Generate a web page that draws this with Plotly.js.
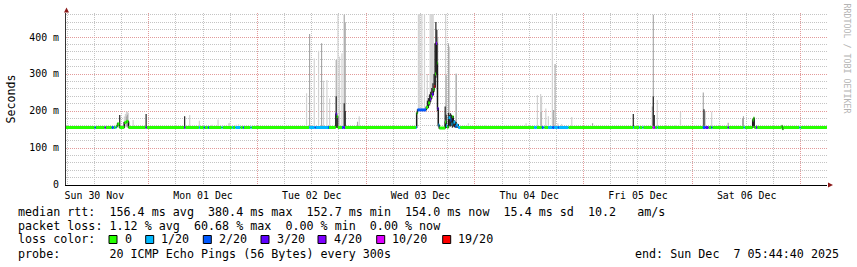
<!DOCTYPE html>
<html><head><meta charset="utf-8">
<script src="https://cdn.plot.ly/plotly-3.0.1.min.js"></script>
<style>html,body{margin:0;padding:0;background:#fff}#chart{width:857px;height:267px}</style>
</head><body><div id="chart"></div>
<script>
// ---------- data ----------
const lossLabels = ['0','1/20','2/20','3/20','4/20','10/20','19/20'];
const lossColors = ['#26ff00','#00b8ff','#0059ff','#5e00ff','#7e00ff','#dd00ff','#ff0000'];
const yTickVals = [0, 0.1, 0.2, 0.3, 0.4];
const yTickText = ['0', '100 m', '200 m', '300 m', '400 m'];
const rangeStart = '2025-11-30 05:44:40';
const rangeEnd = '2025-12-07 05:44:40';

// median rtt (ms) with loss index per 5-min step
const medT = ['2025-11-30 05:44','2025-11-30 12:05','2025-11-30 12:18','2025-11-30 14:18','2025-11-30 14:31','2025-11-30 15:50','2025-11-30 16:17','2025-11-30 16:39','2025-11-30 16:53','2025-11-30 17:06','2025-11-30 17:32','2025-11-30 18:38','2025-11-30 19:05','2025-11-30 19:31','2025-11-30 23:20','2025-11-30 23:33','2025-12-01 07:50','2025-12-01 08:03','2025-12-01 11:05','2025-12-01 11:18','2025-12-01 12:10','2025-12-01 12:23','2025-12-01 13:04','2025-12-01 13:17','2025-12-01 16:05','2025-12-01 16:18','2025-12-01 18:22','2025-12-01 18:35','2025-12-01 19:08','2025-12-01 20:14','2025-12-01 20:47','2025-12-01 21:00','2025-12-01 22:29','2025-12-01 22:42','2025-12-02 11:25','2025-12-02 12:40','2025-12-02 12:53','2025-12-02 15:35','2025-12-02 15:48','2025-12-02 17:18','2025-12-02 17:31','2025-12-02 17:44','2025-12-02 18:40','2025-12-02 19:00','2025-12-02 19:20','2025-12-03 11:00','2025-12-03 11:10','2025-12-03 11:20','2025-12-03 13:15','2025-12-03 13:42','2025-12-03 14:05','2025-12-03 14:20','2025-12-03 14:31','2025-12-03 14:52','2025-12-03 15:05','2025-12-03 15:15','2025-12-03 15:25','2025-12-03 15:38','2025-12-03 15:45','2025-12-03 15:58','2025-12-03 16:10','2025-12-03 17:27','2025-12-03 17:40','2025-12-03 17:53','2025-12-03 18:11','2025-12-03 18:37','2025-12-03 18:50','2025-12-03 19:03','2025-12-03 19:16','2025-12-03 19:40','2025-12-03 19:53','2025-12-03 20:19','2025-12-03 20:45','2025-12-04 13:05','2025-12-04 13:41','2025-12-04 14:47','2025-12-04 15:08','2025-12-04 15:20','2025-12-04 16:10','2025-12-04 17:05','2025-12-04 17:30','2025-12-04 18:20','2025-12-04 18:33','2025-12-04 20:40','2025-12-05 10:55','2025-12-05 11:05','2025-12-05 12:15','2025-12-05 12:25','2025-12-05 13:00','2025-12-05 13:10','2025-12-05 15:15','2025-12-05 15:35','2025-12-05 15:48','2025-12-05 16:15','2025-12-05 16:25','2025-12-06 02:20','2025-12-06 02:55','2025-12-06 03:35','2025-12-06 04:12','2025-12-06 04:25','2025-12-06 07:50','2025-12-06 08:03','2025-12-06 11:22','2025-12-06 11:35','2025-12-06 13:20','2025-12-06 13:32','2025-12-06 13:42','2025-12-06 14:06','2025-12-06 14:19','2025-12-06 19:45','2025-12-06 19:55','2025-12-06 20:05','2025-12-06 23:40','2025-12-06 23:53','2025-12-07 05:44'];
const medV = [155.5,155.5,155.5,155.5,155.5,155.5,155.5,155.5,159,165,155.5,169,172,155.5,155.5,155.5,155.5,155.5,155.5,155.5,155.5,155.5,155.5,155.5,155.5,155.5,155.5,155.5,155.5,155.5,155.5,155.5,155.5,155.5,155.5,155.5,155.5,155.5,155.5,192,185,155.5,155.5,155.5,155.5,155.5,194,203,210,222,232,240,245,258,266,300,383,330,207,162,154,170,160,156,182,176,165,185,170,158,162,155.5,155.5,155.5,155.5,155.5,155.5,155.5,155.5,155.5,155.5,155.5,155.5,155.5,155.5,155.5,155.5,155.5,155.5,155.5,155.5,155.5,155.5,155.5,155.5,155.5,155.5,155.5,155.5,155.5,155.5,155.5,155.5,155.5,176,181,155.5,155.5,155.5,159,152,155.5,155.5,155.5,155.5];
const medL = [0,2,0,3,0,2,0,1,0,0,0,0,0,0,3,0,3,0,1,0,2,0,2,0,1,0,1,0,1,0,2,0,1,0,1,2,1,2,0,3,0,0,2,3,0,1,0,2,0,0,3,0,3,0,6,0,4,0,3,1,0,0,1,0,1,2,1,0,1,2,1,1,0,1,0,2,1,0,1,2,1,2,1,0,1,0,1,0,1,0,5,4,0,1,0,2,3,0,2,0,3,0,1,0,0,0,0,3,0,0,0,0,1,0,0];

// smoke (ping spread), ms
const lightT = ['2025-11-30 18:38','2025-11-30 18:52','2025-11-30 19:05','2025-11-30 19:18','2025-11-30 19:31','2025-11-30 20:34','2025-12-01 05:53','2025-12-01 09:03','2025-12-01 11:11','2025-12-01 13:45','2025-12-01 14:00','2025-12-01 15:19','2025-12-01 17:40','2025-12-01 17:55','2025-12-01 19:20','2025-12-01 19:50','2025-12-02 10:51','2025-12-02 12:33','2025-12-02 13:30','2025-12-02 14:36','2025-12-02 15:21','2025-12-02 15:56','2025-12-02 17:47','2025-12-02 18:08','2025-12-02 18:40','2025-12-02 22:29','2025-12-03 11:33','2025-12-03 11:50','2025-12-03 12:18','2025-12-03 12:53','2025-12-03 13:30','2025-12-03 14:08','2025-12-03 14:22','2025-12-03 14:35','2025-12-03 14:48','2025-12-03 15:50','2025-12-03 17:33','2025-12-03 18:24','2025-12-03 19:53','2025-12-03 22:35','2025-12-04 02:30','2025-12-04 11:19','2025-12-04 13:49','2025-12-04 14:31','2025-12-04 14:44','2025-12-04 15:40','2025-12-04 16:14','2025-12-04 17:07','2025-12-04 18:20','2025-12-04 19:10','2025-12-04 21:24','2025-12-05 13:12','2025-12-05 16:17','2025-12-05 20:24','2025-12-05 21:24','2025-12-06 04:17','2025-12-06 23:02'];
const lightLo = [156,156,156,156,156,156,156,156,156,156,156,156,156,156,156,156,156,156,156,156,156,156,156,156,156,156,196,200,203,205,208,225,235,240,250,160,156,156,156,156,156,156,156,156,156,156,156,156,156,156,156,156,156,156,156,156,156];
const lightHi = [185,192,198,198,195,176,162,189,174,162,163,177,167,168,163,164,248,342,363,282,284,234,462,347,356,186,462,462,462,462,300,462,462,462,462,400,462,374,302,167,162,167,243,246,240,207,186,462,167,165,184,160,230,162,198,198,158];

const midT = ['2025-11-30 19:05','2025-11-30 19:18','2025-12-02 11:31','2025-12-02 14:10','2025-12-02 17:24','2025-12-02 19:10','2025-12-02 19:23','2025-12-02 22:06','2025-12-03 17:40','2025-12-03 18:11','2025-12-03 19:53','2025-12-04 14:38','2025-12-04 17:20','2025-12-04 17:43','2025-12-05 01:59','2025-12-05 15:11','2025-12-05 15:24','2025-12-06 02:26','2025-12-06 02:48','2025-12-06 07:56','2025-12-06 11:07','2025-12-06 11:18','2025-12-06 14:12'];
const midLo = [158,158,156,156,156,156,156,156,154,155,155,156,156,156,156,156,156,156,156,156,156,156,156];
const midHi = [185,190,408,383,338,460,440,171,297,383,300,198,203,327,167,212,460,250,200,168,181,186,162];

const darkT = ['2025-11-30 17:10','2025-11-30 17:36','2025-11-30 18:35','2025-11-30 19:35','2025-11-30 23:26','2025-12-01 07:56','2025-12-02 17:24','2025-12-02 19:10','2025-12-02 19:23','2025-12-03 11:08','2025-12-03 13:20','2025-12-03 13:32','2025-12-03 13:45','2025-12-03 14:00','2025-12-03 14:15','2025-12-03 14:30','2025-12-03 14:45','2025-12-03 15:00','2025-12-03 15:12','2025-12-03 15:24','2025-12-03 15:36','2025-12-03 15:45','2025-12-03 15:56','2025-12-03 16:08','2025-12-03 17:27','2025-12-03 17:40','2025-12-03 18:11','2025-12-03 18:24','2025-12-03 18:37','2025-12-03 18:50','2025-12-03 19:03','2025-12-03 19:16','2025-12-03 19:30','2025-12-03 19:53','2025-12-03 20:19','2025-12-05 10:59','2025-12-05 15:24','2025-12-05 15:37','2025-12-06 02:35','2025-12-06 13:19','2025-12-06 13:32','2025-12-06 19:58'];
const darkLo = [158,155,156,156,155,155,155,157,157,155,203,206,208,215,225,233,242,252,262,290,300,200,158,153,154,154,158,160,158,160,155,158,156,155,154,155,160,155,160,155,160,150];
const darkHi = [168,189,170,172,192,186,240,221,200,196,214,228,235,245,252,262,275,300,383,441,420,330,207,162,212,190,195,189,194,190,185,180,175,170,165,192,239,189,205,176,181,158];

const statLines = [
  'median rtt:  156.4 ms avg  380.4 ms max  152.7 ms min  154.0 ms now  15.4 ms sd  10.2   am/s',
  'packet loss: 1.12 % avg  60.68 % max  0.00 % min  0.00 % now',
  'loss color:',
  'probe:       20 ICMP Echo Pings (56 Bytes) every 300s'
];
const endText = 'end: Sun Dec  7 05:44:40 2025';
const yTitle = 'Seconds';
const watermark = 'RRDTOOL / TOBI OETIKER';

// ---------- drawing ----------
const W = 857, H = 267, ML = 66, MR = 30, MT = 13, MB = 82;
const PW = W - ML - MR, PH = H - MT - MB;
const px = x => (x - ML) / PW;
const py = y => (H - MB - y) / PH;
const nb = s => s.replace(/ /g, '\u00a0');
const mono = 'DejaVu Sans Mono, monospace';

function smoke(T, Lo, Hi, color, w) {
  return { type: 'bar', x: T, base: Lo.map(v => v / 1000), y: Hi.map((h, i) => (h - Lo[i]) / 1000),
    width: w, marker: { color: color, line: { width: 0 } }, hoverinfo: 'skip', showlegend: false };
}
function lossSegments(k) {
  const xs = [], ys = [];
  for (let i = 0; i < medT.length - 1; i++) {
    if (medL[i] === k) { xs.push(medT[i], medT[i + 1], null); ys.push(medV[i] / 1000, medV[i] / 1000, null); }
  }
  return { type: 'scatter', mode: 'lines', x: xs, y: ys, connectgaps: false,
    line: { color: lossColors[k], width: 3 }, hoverinfo: 'skip', showlegend: false };
}
const traces = [];
traces.push(smoke(lightT, lightLo, lightHi, '#d2d2d2', 950000));
traces.push(smoke(midT, midLo, midHi, '#a6a6a6', 900000));
// thin connector of the median steps
traces.push({ type: 'scatter', mode: 'lines', x: medT, y: medV.map(v => v / 1000),
  line: { shape: 'hv', color: '#1a1a1a', width: 1.2 }, hoverinfo: 'skip', showlegend: false });
traces.push(lossSegments(0));
traces.push(smoke(darkT, darkLo, darkHi, '#2e2e2e', 1000000));
for (let k = 1; k < lossColors.length; k++) traces.push(lossSegments(k));

const ann = [];
const rows = [211.5, 225.5, 239.5, 253.5];
statLines.forEach((s, i) => ann.push({ xref: 'paper', yref: 'paper', x: px(15.5), y: py(rows[i]), xanchor: 'left', yanchor: 'middle',
  text: nb(s), showarrow: false, font: { family: mono, size: 11.7, color: '#000' } }));
ann.push({ xref: 'paper', yref: 'paper', x: px(840.5), y: py(rows[3]), xanchor: 'right', yanchor: 'middle',
  text: nb(endText), showarrow: false, font: { family: mono, size: 11.7, color: '#000' } });
const boxX = [109, 145.7, 203.3, 261, 318, 376.7, 442.7];
const shapes = [];
lossLabels.forEach((lab, i) => {
  shapes.push({ type: 'rect', xref: 'paper', yref: 'paper', x0: px(boxX[i]), x1: px(boxX[i] + 8), y0: py(243.5), y1: py(235.5),
    fillcolor: lossColors[i], line: { color: '#000', width: 1 } });
  ann.push({ xref: 'paper', yref: 'paper', x: px(boxX[i] + 13.5), y: py(rows[2]), xanchor: 'left', yanchor: 'middle',
    text: lab, showarrow: false, font: { family: mono, size: 11.7, color: '#000' } });
});
ann.push({ xref: 'paper', yref: 'paper', x: px(10.5), y: py(99), xanchor: 'center', yanchor: 'middle', textangle: -90,
  text: yTitle, showarrow: false, font: { family: mono, size: 11.6, color: '#000' } });
ann.push({ xref: 'paper', yref: 'paper', x: px(846.5), y: py(59), xanchor: 'center', yanchor: 'middle', textangle: 90,
  text: nb(watermark), showarrow: false, font: { family: mono, size: 8.3, color: '#b4b4b4' } });
// axis arrows
const arrowCol = '#8b1a1a';
shapes.push({ type: 'path', xref: 'paper', yref: 'paper', fillcolor: arrowCol, line: { width: 0 },
  path: `M ${px(64)} ${py(12.5)} L ${px(69)} ${py(12.5)} L ${px(66.5)} ${py(7.5)} Z` });
shapes.push({ type: 'path', xref: 'paper', yref: 'paper', fillcolor: arrowCol, line: { width: 0 },
  path: `M ${px(828)} ${py(182.5)} L ${px(828)} ${py(187.5)} L ${px(833)} ${py(185)} Z` });

const layout = {
  width: W, height: H, margin: { l: ML, r: MR, t: MT, b: MB },
  paper_bgcolor: '#ffffff', plot_bgcolor: '#ffffff', showlegend: false, barmode: 'overlay',
  xaxis: { type: 'date', range: [rangeStart, rangeEnd], tick0: '2025-11-30', dtick: 86400000,
    ticklabelmode: 'period', tickformat: '%a %d %b', ticks: '', showgrid: true,
    gridcolor: '#e29a9a', griddash: '1px,1px', gridwidth: 1,
    minor: { dtick: 21600000, tick0: '2025-11-30', showgrid: true, gridcolor: '#c4c4c4', griddash: '1px,1px', gridwidth: 1 },
    showline: true, linecolor: '#000', linewidth: 1, zeroline: false, ticklabelstandoff: 1,
    tickfont: { family: mono, size: 9.9, color: '#000' }, fixedrange: true },
  yaxis: { range: [0, 0.465], tickvals: yTickVals, ticktext: yTickText, ticks: '', showgrid: true,
    gridcolor: '#e29a9a', griddash: '1px,1px', gridwidth: 1,
    minor: { dtick: 0.02, tick0: 0, showgrid: true, gridcolor: '#c4c4c4', griddash: '1px,1px', gridwidth: 1 },
    showline: true, linecolor: '#333', linewidth: 1, zeroline: false, ticklabelstandoff: 4,
    tickfont: { family: mono, size: 9.9, color: '#000' }, fixedrange: true },
  annotations: ann, shapes: shapes
};
Plotly.newPlot('chart', traces, layout, { staticPlot: true, displayModeBar: false });
</script></body></html>
